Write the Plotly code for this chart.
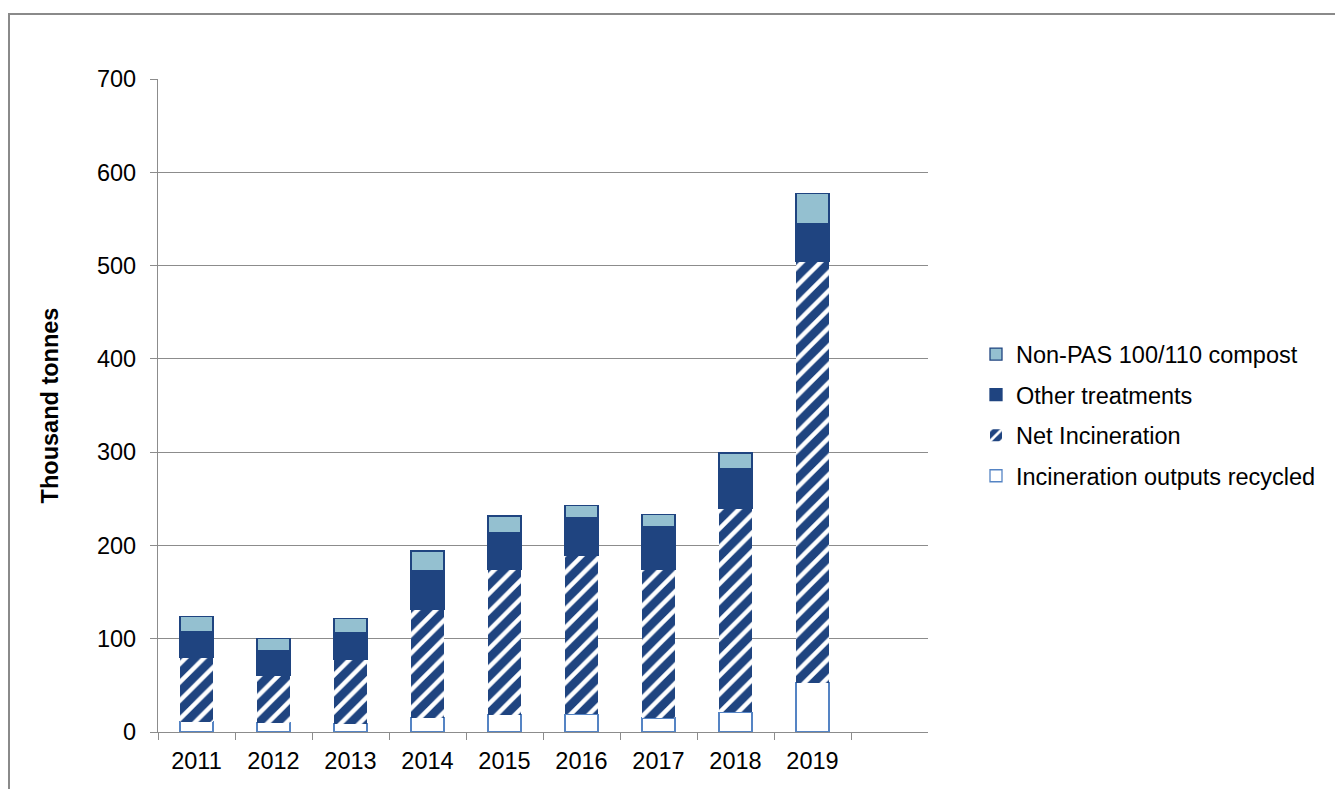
import plotly.graph_objects as go

years = ["2011", "2012", "2013", "2014", "2015", "2016", "2017", "2018", "2019"]
recycled = [11, 10, 9, 15.5, 18.5, 19, 15, 21, 53]
net_incineration = [69, 50.5, 68.5, 116.5, 156, 170, 159, 218.5, 452]
other_treatments = [28, 27, 28.5, 41, 39.5, 41, 46.5, 42.5, 40]
compost = [15.5, 13, 15.5, 21, 17.5, 13, 13, 17, 32.5]

DARK = "#1F4480"
LIGHT = "#94C0D0"
REC_LINE = "#5584C4"
GRID = "#8C8C8C"
FONT = "Liberation Sans, Arial, sans-serif"
FS = 23.5

# page offset (body margin) of the rendered html
OFF = 8
W, H = 1343, 789
L, T = 158 - OFF, 79 - OFF
pw = 770
ph = 653.3
R = W - L - pw
B = H - T - ph

fig = go.Figure()
bw = 0.43
fig.add_bar(x=years, y=recycled, name="Incineration outputs recycled", width=bw,
            marker=dict(color="white", line=dict(color=REC_LINE, width=1.3)),
            legendgroup="a", legendrank=4)
fig.add_bar(x=years, y=net_incineration, name="Net Incineration", width=bw,
            marker=dict(color=DARK, line=dict(color=DARK, width=0),
                        pattern=dict(shape="/", fgcolor="white", bgcolor=DARK,
                                     size=13, solidity=0.34, fillmode="replace")),
            legendgroup="b", legendrank=3)
fig.add_bar(x=years, y=other_treatments, name="Other treatments", width=bw,
            marker=dict(color=DARK, line=dict(color=DARK, width=1.3)),
            legendgroup="c", legendrank=2)
fig.add_bar(x=years, y=compost, name="Non-PAS 100/110 compost", width=bw,
            marker=dict(color=LIGHT, line=dict(color=DARK, width=1.3)),
            legendgroup="d", legendrank=1)

def px_x(p):
    return (p - OFF - L) / pw

def px_y(p):
    return (T + ph - (p - OFF)) / ph

fig.update_layout(
    width=W, height=H,
    margin=dict(l=L, r=R, t=T, b=B, autoexpand=False),
    barmode="stack",
    paper_bgcolor="white", plot_bgcolor="white",
    font=dict(family=FONT, size=FS, color="#000000"),
    showlegend=True,
    legend=dict(x=px_x(976), xanchor="left", y=px_y(415.5), yanchor="middle",
                traceorder="grouped", tracegroupgap=7,
                font=dict(family=FONT, size=FS, color="#000000"),
                bgcolor="rgba(0,0,0,0)"),
    xaxis=dict(type="category", range=[-0.5, 9.5], tickson="boundaries",
               ticks="outside", ticklen=7, tickcolor=GRID, tickwidth=1.3,
               showline=True, linecolor=GRID, linewidth=1.3,
               showgrid=False, tickfont=dict(size=FS), ticklabelstandoff=8),
    yaxis=dict(range=[0, 700], dtick=100, ticks="outside", ticklen=7,
               tickcolor=GRID, tickwidth=1.3, showline=True, linecolor=GRID,
               linewidth=1.3, showgrid=True, gridcolor=GRID, gridwidth=1.3,
               zeroline=False, tickfont=dict(size=FS), ticklabelstandoff=9,
               title=dict(text="<b>Thousand tonnes</b>", standoff=31,
                          font=dict(size=FS))),
    shapes=[dict(type="rect", xref="paper", yref="paper",
                 x0=px_x(9), x1=px_x(1380), y0=px_y(820), y1=px_y(14),
                 line=dict(color="#8A8A8A", width=2), fillcolor="rgba(0,0,0,0)",
                 layer="below")],
)

fig.write_html("out.html")
